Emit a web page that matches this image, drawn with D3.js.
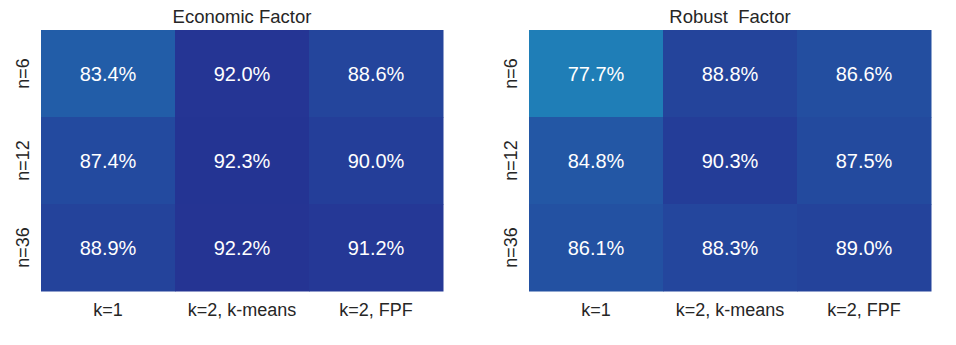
<!DOCTYPE html>
<html>
<head>
<meta charset="utf-8">
<script src="https://cdn.jsdelivr.net/npm/d3@7"></script>
<style>
  body { margin: 0; background: #fff; }
  svg text { font-family: "Liberation Sans", Arial, sans-serif; }
</style>
</head>
<body>
<div id="chart"></div>
<script>
// heatmap values (percent), rows = n, cols = k setting
const colLabels = ["k=1", "k=2, k-means", "k=2, FPF"];
const rowLabels = ["n=6", "n=12", "n=36"];
const panelTitles = ["Economic Factor", "Robust  Factor"];
const economic = [
  [83.4, 92.0, 88.6],
  [87.4, 92.3, 90.0],
  [88.9, 92.2, 91.2]
];
const robust = [
  [77.7, 88.8, 86.6],
  [84.8, 90.3, 87.5],
  [86.1, 88.3, 89.0]
];

const W = 956, H = 345;
const panels = [
  { title: panelTitles[0], data: economic, x0: 41 },
  { title: panelTitles[1], data: robust, x0: 529 }
];
const plotW = 402, plotH = 261, plotTop = 30;
const fontFam = '"Liberation Sans", Arial, sans-serif';

// matplotlib YlGnBu stops
const ylgnbu = ["#ffffd9", "#edf8b1", "#c7e9b4", "#7fcdbb", "#41b6c4", "#1d91c0", "#225ea8", "#253494", "#081d58"];
const vmin = 30, vmax = 101;
const color = d3.scaleLinear()
  .domain(d3.range(ylgnbu.length).map(i => vmin + (vmax - vmin) * i / (ylgnbu.length - 1)))
  .range(ylgnbu)
  .clamp(true);

const svg = d3.select('#chart').append('svg')
  .attr('width', W).attr('height', H);

panels.forEach(p => {
  const x = d3.scaleBand().domain(colLabels).range([p.x0, p.x0 + plotW]);
  const y = d3.scaleBand().domain(rowLabels).range([plotTop, plotTop + plotH]);
  const g = svg.append('g');

  const cells = [];
  p.data.forEach((row, i) => row.forEach((v, j) => cells.push({ r: rowLabels[i], c: colLabels[j], v })));

  g.selectAll('rect').data(cells).join('rect')
    .attr('x', d => x(d.c))
    .attr('y', d => y(d.r))
    .attr('width', x.bandwidth() + 0.5)
    .attr('height', y.bandwidth() + 0.5)
    .attr('fill', d => color(d.v));

  g.selectAll('text.val').data(cells).join('text')
    .attr('class', 'val')
    .attr('x', d => x(d.c) + x.bandwidth() / 2)
    .attr('y', d => y(d.r) + y.bandwidth() / 2)
    .attr('dy', '0.36em')
    .attr('text-anchor', 'middle')
    .attr('fill', '#fff')
    .attr('font-size', '20px')
    .text(d => d.v.toFixed(1) + '%');

  // x tick labels
  const xAxis = d3.axisBottom(x).tickSize(0).tickPadding(12);
  const xg = g.append('g').attr('transform', `translate(0,${plotTop + plotH})`).call(xAxis);
  xg.select('.domain').remove();
  xg.selectAll('text').attr('font-size', '18px').attr('fill', '#262626')
    .style('font-family', fontFam);

  // y tick labels, rotated
  const yAxis = d3.axisLeft(y).tickSize(0);
  const yg = g.append('g').attr('transform', `translate(${p.x0},0)`).call(yAxis);
  yg.select('.domain').remove();
  yg.selectAll('text')
    .attr('font-size', '18px').attr('fill', '#262626')
    .style('font-family', fontFam)
    .attr('text-anchor', 'middle')
    .attr('x', 0).attr('dy', 0)
    .attr('transform', 'translate(-12,0) rotate(-90)');

  g.append('text')
    .attr('x', p.x0 + plotW / 2)
    .attr('y', 23)
    .attr('text-anchor', 'middle')
    .attr('font-size', '18.5px')
    .attr('fill', '#262626')
    .style('white-space', 'pre')
    .text(p.title);
});
</script>
</body>
</html>
